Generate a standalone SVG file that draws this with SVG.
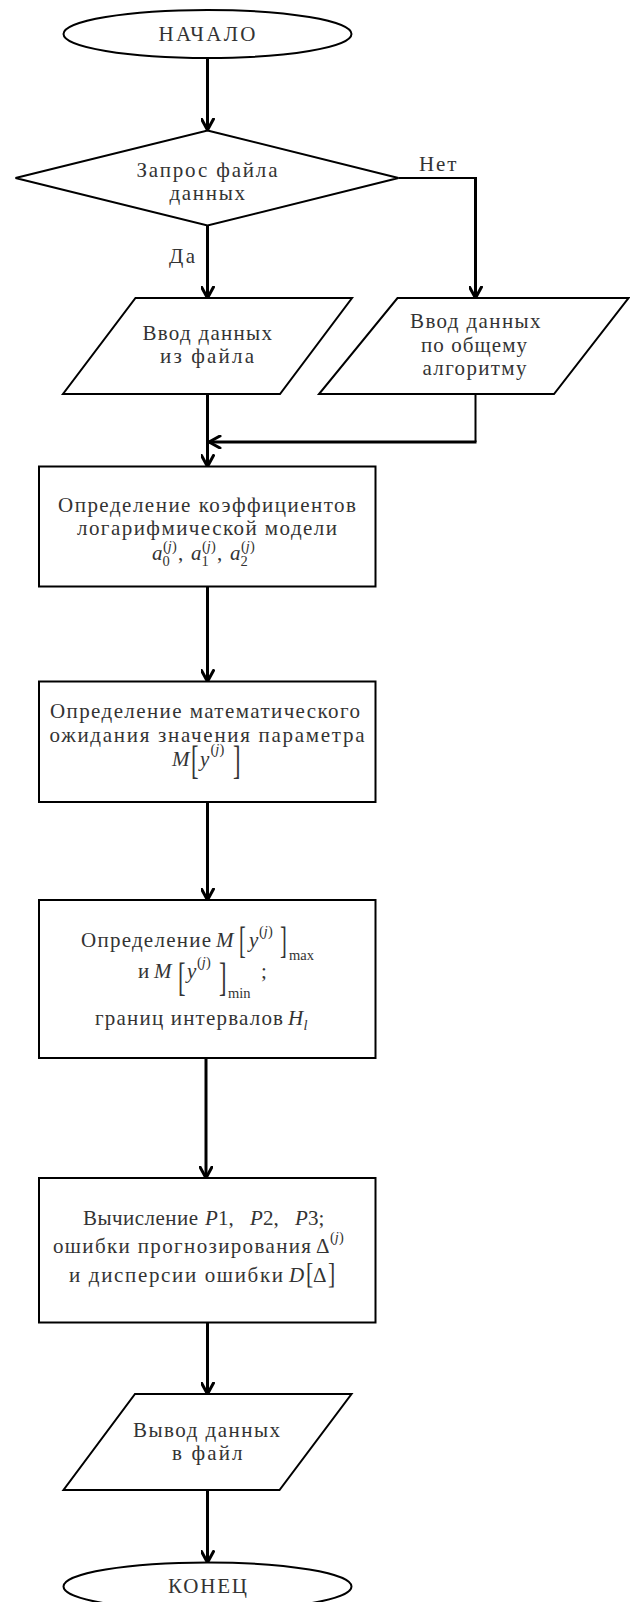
<svg xmlns="http://www.w3.org/2000/svg" width="630" height="1602" viewBox="0 0 630 1602">
  <defs>
    <marker id="arr" viewBox="0 0 14 14" markerWidth="14" markerHeight="14" refX="12.5" refY="7" orient="auto" markerUnits="userSpaceOnUse">
      <path d="M1.5,1 L12.5,7 L1.5,13" fill="none" stroke="#000" stroke-width="3" stroke-linejoin="round" stroke-linecap="round"/>
    </marker>
    <style>
      .shape { fill: #fff; stroke: #000; stroke-width: 2; }
      .conn { fill: none; stroke: #000; stroke-width: 3; }
      .thin { fill: none; stroke: #000; stroke-width: 2; }
      .t { font-family: "Liberation Serif", "DejaVu Serif", serif; font-size: 21px; fill: #333; }
      .mi { font-family: "Liberation Serif", serif; font-style: italic; font-size: 21px; fill: #333; }
      .mr { font-family: "Liberation Serif", serif; font-size: 21px; fill: #333; }
      .sb { font-family: "Liberation Serif", serif; font-size: 14.5px; fill: #333; }
      .sbi { font-family: "Liberation Serif", serif; font-style: italic; font-size: 14.5px; fill: #333; }
      .br { font-family: "Liberation Serif", serif; fill: #333; }
    </style>
  </defs>

  <rect x="0" y="0" width="630" height="1602" fill="#fff"/>

  <!-- connectors -->
  <g id="connectors">
    <path class="conn" d="M207.5,58 V130" marker-end="url(#arr)"/>
    <path class="conn" d="M207.5,225.5 V298" marker-end="url(#arr)"/>
    <path class="thin" d="M398.5,178 H475.5"/>
    <path class="conn" d="M475.5,177 V298" marker-end="url(#arr)"/>
    <path class="conn" d="M207.5,394 V466.5" marker-end="url(#arr)"/>
    <path class="thin" d="M475.5,394 V442"/>
    <path class="conn" d="M476.5,442 H209" marker-end="url(#arr)"/>
    <path class="conn" d="M207.5,586.5 V681.5" marker-end="url(#arr)"/>
    <path class="conn" d="M207.5,802 V900" marker-end="url(#arr)"/>
    <path class="conn" d="M206,1058 V1178" marker-end="url(#arr)"/>
    <path class="conn" d="M207.5,1322.5 V1394" marker-end="url(#arr)"/>
    <path class="conn" d="M207.5,1490 V1562.5" marker-end="url(#arr)"/>
    <text class="t" x="419" y="170.5" textLength="37.5" lengthAdjust="spacing">Нет</text>
    <text class="t" x="169" y="263" textLength="26" lengthAdjust="spacing">Да</text>
  </g>

  <!-- start -->
  <g id="start">
    <ellipse class="shape" cx="207.5" cy="34" rx="144" ry="24"/>
    <text class="t" x="158.5" y="40.5" textLength="97" lengthAdjust="spacing">НАЧАЛО</text>
  </g>

  <!-- decision: data file request -->
  <g id="decision">
    <polygon class="shape" points="207.5,130.5 398.5,178 207.5,225.5 15.5,178"/>
    <text class="t" x="136.5" y="177" textLength="141" lengthAdjust="spacing">Запрос файла</text>
    <text class="t" x="169.5" y="200" textLength="75.5" lengthAdjust="spacing">данных</text>
  </g>

  <!-- input from file -->
  <g id="input-file">
    <polygon class="shape" points="135.5,298 352,298 280,394 63,394"/>
    <text class="t" x="142.5" y="340" textLength="129.5" lengthAdjust="spacing">Ввод данных</text>
    <text class="t" x="160" y="363" textLength="94" lengthAdjust="spacing">из файла</text>
  </g>

  <!-- manual input -->
  <g id="input-manual">
    <polygon class="shape" points="397.5,298 628.5,298 554,394 319,394"/>
    <text class="t" x="410" y="328" textLength="130.5" lengthAdjust="spacing">Ввод данных</text>
    <text class="t" x="421" y="351.5" textLength="106" lengthAdjust="spacing">по общему</text>
    <text class="t" x="422.5" y="375" textLength="104" lengthAdjust="spacing">алгоритму</text>
  </g>

  <!-- coefficients of the logarithmic model -->
  <g id="coefficients">
    <rect class="shape" x="39" y="466.5" width="336.5" height="120"/>
    <text class="t" x="58" y="511.5" textLength="298" lengthAdjust="spacing">Определение коэффициентов</text>
    <text class="t" x="77" y="535" textLength="260" lengthAdjust="spacing">логарифмической модели</text>
    <text class="mi" x="152" y="560">a</text>
    <text class="sb" x="162.5" y="566">0</text>
    <text class="sb" x="163" y="550.5">(<tspan class="sbi">j</tspan>)</text>
    <text class="mr" x="178" y="560">,</text>
    <text class="mi" x="191" y="560">a</text>
    <text class="sb" x="201.5" y="566">1</text>
    <text class="sb" x="202" y="550.5">(<tspan class="sbi">j</tspan>)</text>
    <text class="mr" x="217" y="560">,</text>
    <text class="mi" x="230" y="560">a</text>
    <text class="sb" x="240.5" y="566">2</text>
    <text class="sb" x="241" y="550.5">(<tspan class="sbi">j</tspan>)</text>
  </g>

  <!-- expected value -->
  <g id="expectation">
    <rect class="shape" x="39" y="681.5" width="336.5" height="120.5"/>
    <text class="t" x="50" y="718" textLength="310" lengthAdjust="spacing">Определение математического</text>
    <text class="t" x="49.5" y="741.5" textLength="315" lengthAdjust="spacing">ожидания значения параметра</text>
    <text class="mi" x="172" y="765.5">M</text>
    <text class="br" font-size="41" transform="translate(191,774) scale(0.55,1)">[</text>
    <text class="mi" x="200" y="765.5">y</text>
    <text class="sb" x="210.5" y="754">(<tspan class="sbi">j</tspan>)</text>
    <text class="br" font-size="41" transform="translate(233,774) scale(0.55,1)">]</text>
  </g>

  <!-- extremes and interval bounds -->
  <g id="bounds">
    <rect class="shape" x="39" y="900" width="336.5" height="158"/>
    <text class="t" x="81" y="946.5" textLength="130" lengthAdjust="spacing">Определение</text>
    <text class="mi" x="216" y="946.5">M</text>
    <text class="br" font-size="37" transform="translate(239,953) scale(0.55,1)">[</text>
    <text class="mi" x="249" y="946.5">y</text>
    <text class="sb" x="259" y="935.5">(<tspan class="sbi">j</tspan>)</text>
    <text class="br" font-size="37" transform="translate(280,953) scale(0.55,1)">]</text>
    <text class="sb" x="289" y="960" font-size="16.5">max</text>

    <text class="t" x="138" y="977.5">и</text>
    <text class="mi" x="154" y="977.5">M</text>
    <text class="br" font-size="41" transform="translate(178,991) scale(0.55,1)">[</text>
    <text class="mi" x="187" y="977.5">y</text>
    <text class="sb" x="197" y="966.5">(<tspan class="sbi">j</tspan>)</text>
    <text class="br" font-size="41" transform="translate(219,991) scale(0.55,1)">]</text>
    <text class="sb" x="228" y="998" font-size="16.5">min</text>
    <text class="mr" x="261" y="977.5">;</text>

    <text class="t" x="95" y="1025" textLength="188" lengthAdjust="spacing">границ интервалов</text>
    <text class="mi" x="288" y="1025">H</text>
    <text class="sbi" x="303.5" y="1030">l</text>
  </g>

  <!-- probabilities, forecast error, variance -->
  <g id="errors">
    <rect class="shape" x="39" y="1178" width="336.5" height="144.5"/>
    <text class="t" x="83" y="1225" textLength="115" lengthAdjust="spacing">Вычисление</text>
    <text class="mi" x="205" y="1225">P</text>
    <text class="mr" x="218" y="1225">1,</text>
    <text class="mi" x="250" y="1225">P</text>
    <text class="mr" x="263" y="1225">2,</text>
    <text class="mi" x="295" y="1225">P</text>
    <text class="mr" x="308" y="1225">3;</text>

    <text class="t" x="53" y="1253" textLength="258" lengthAdjust="spacing">ошибки прогнозирования</text>
    <text class="mr" x="316" y="1253">Δ</text>
    <text class="sb" x="330" y="1242">(<tspan class="sbi">j</tspan>)</text>

    <text class="t" x="69" y="1282" textLength="214" lengthAdjust="spacing">и дисперсии ошибки</text>
    <text class="mi" x="289" y="1282">D</text>
    <text class="br" font-size="29" transform="translate(306,1283) scale(0.75,1)">[</text>
    <text class="mr" x="313" y="1282">Δ</text>
    <text class="br" font-size="29" transform="translate(328,1283) scale(0.75,1)">]</text>
  </g>

  <!-- output to file -->
  <g id="output">
    <polygon class="shape" points="135,1394 351.5,1394 279.5,1490 63.5,1490"/>
    <text class="t" x="133" y="1436.5" textLength="147" lengthAdjust="spacing">Вывод данных</text>
    <text class="t" x="172" y="1460" textLength="70.5" lengthAdjust="spacing">в файл</text>
  </g>

  <!-- end -->
  <g id="end">
    <ellipse class="shape" cx="207.5" cy="1586.5" rx="144" ry="24"/>
    <text class="t" x="168" y="1593" textLength="79" lengthAdjust="spacing">КОНЕЦ</text>
  </g>
</svg>
